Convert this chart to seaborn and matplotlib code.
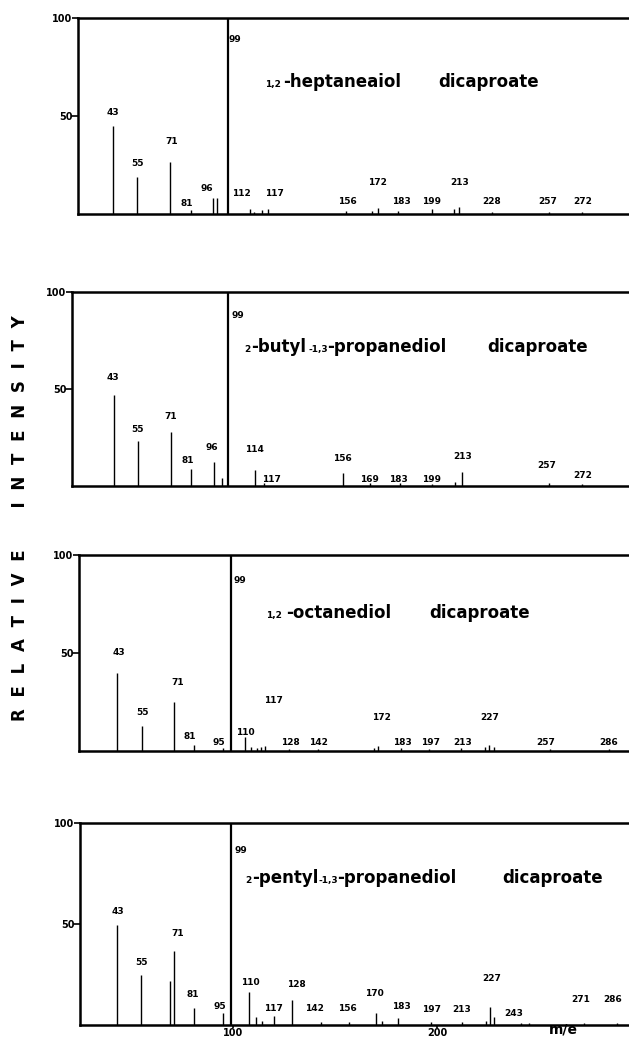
import seaborn as sns
import matplotlib.pyplot as plt

sns.set_theme(style="white")
plt.rcParams['font.family'] = ['DejaVu Sans']

# panel 1 - 1,2-heptanediol dicaproate
p1_mz = [43, 55, 71, 81, 92, 94, 99, 110, 112, 116, 119, 157, 169.5, 172.4, 182,
         199, 209.5, 212, 228, 256, 272]
p1_int = [45, 19, 26.5, 2, 8, 8, 100, 2.5, 1, 2, 2.5, 1.5, 1.5, 3, 1.5,
          2.5, 2.5, 3.5, 1, 1, 1]
p1_lab = ['43', '55', '71', '81', '96', '99', '112', '117', '156', '172', '183',
          '199', '213', '228', '257', '272']
p1_lab_x = [43, 55.2, 71.8, 79, 89, 102.8, 106, 122, 157.7, 172.4, 184,
            198.8, 212.4, 228, 255.4, 272.5]
p1_lab_y = [52, 26, 37, 5.6, 12.8, 89, 10.7, 10.7, 6.6, 16.3, 6.6,
            6.6, 16.3, 6.6, 6.6, 6.6]

# panel 2 - 2-butyl-1,3-propanediol dicaproate
p2_mz = [43, 55, 71, 80.8, 92.1, 96, 99, 112.3, 116.7, 155.5, 168.7, 183.5,
         199.2, 210.5, 214, 256.7, 273]
p2_int = [47, 23, 28, 8.8, 12.4, 4, 100, 8.2, 1.5, 6.7, 1.5, 1.5,
          1.2, 2, 7, 1.5, 1]
p2_lab = ['43', '55', '71', '81', '96', '99', '114', '117', '156', '169', '183',
          '199', '213', '257', '272']
p2_lab_x = [42.5, 54.8, 71, 79.3, 91.1, 104.1, 112.3, 120.6, 155.5, 168.7, 183,
            199.2, 214.4, 255.7, 273.4]
p2_lab_y = [56, 29, 36, 13.4, 19.6, 88, 19, 3.6, 14.4, 3.6, 3.6,
            3.6, 15, 10.8, 5.5]

# panel 3 - 1,2-octanediol dicaproate
p3_mz = [43, 55, 71, 81, 95, 99, 106, 109, 112, 114, 116, 128, 142, 170, 172,
         183, 197, 213, 225, 227, 229, 257, 286]
p3_int = [40, 13, 25, 3, 1.5, 100, 7, 2, 1.5, 2, 2.5, 1, 1, 1.5, 2.5,
          1.5, 1, 1.5, 2, 3, 2, 0.8, 0.8]
p3_lab = ['43', '55', '71', '81', '95', '99', '110', '117', '128', '142', '172',
          '183', '197', '213', '227', '257', '286']
p3_lab_x = [43.5, 55.4, 72.7, 79, 93, 103.6, 106.4, 120.2, 128.6, 142.5, 173.7,
            184, 198, 213.8, 227, 254.9, 286]
p3_lab_y = [50.5, 19.4, 34.7, 7.5, 4.5, 87, 9.5, 26, 4.5, 4.5, 17,
            4.5, 4.5, 4.5, 17, 4.5, 4.5]

# panel 4 - 2-pentyl-1,3-propanediol dicaproate
p4_mz = [43, 55, 69, 71, 81, 95, 99, 108, 111, 114, 120, 129, 143, 157, 170,
         173, 181, 197, 212, 224, 226, 228, 241, 245, 272, 288]
p4_int = [49.5, 24.8, 21.8, 36.6, 8.4, 6, 100, 16.3, 4, 2, 4.5, 12.4, 1.5, 1.5, 6,
          2, 3.5, 1.5, 1.5, 2, 9, 4, 1, 1, 1, 1]
p4_lab = ['43', '55', '71', '81', '95', '99', '110', '117', '128', '142', '156',
          '170', '183', '197', '213', '227', '243', '271', '286']
p4_lab_x = [43.5, 55.3, 73, 80.3, 93.6, 103.7, 108.3, 119.6, 130.9, 139.7, 155.9,
            169.2, 182.4, 197.1, 211.9, 226.6, 237.4, 270.3, 286]
p4_lab_y = [56, 31, 45.5, 15, 9.4, 86.6, 21, 8.4, 20, 8.4, 8.4,
            15.8, 9, 7.9, 7.9, 22.8, 5.9, 12.4, 12.4]

# compound names: (text, m/e start, small?)
p1_name = [('1,2', 117.2, True), ('-heptaneaiol', 126.0, False), ('dicaproate', 201.7, False)]
p2_name = [('2', 107.3, True), ('-butyl', 110.3, False), ('-1,3', 138.5, True),
           ('-propanediol', 148.0, False), ('dicaproate', 226.2, False)]
p3_name = [('1,2', 116.3, True), ('-octanediol', 126.2, False), ('dicaproate', 197.0, False)]
p4_name = [('2', 105.8, True), ('-pentyl', 109.3, False), ('-1,3', 141.8, True),
           ('-propanediol', 151.2, False), ('dicaproate', 232.0, False)]
name_y = [64.8, 69, 68, 70.3]

panels = [
    (p1_mz, p1_int, p1_lab, p1_lab_x, p1_lab_y, p1_name),
    (p2_mz, p2_int, p2_lab, p2_lab_x, p2_lab_y, p2_name),
    (p3_mz, p3_int, p3_lab, p3_lab_x, p3_lab_y, p3_name),
    (p4_mz, p4_int, p4_lab, p4_lab_x, p4_lab_y, p4_name),
]

W, H = 629, 1038
# axes boxes in pixels: left, top, bottom
boxes = [(78, 18, 214), (72, 292, 486), (79, 555, 751), (80, 823, 1025)]
xlims = [(26, 295), (22.5, 296), (24, 296), (25, 294)]

fig = plt.figure(figsize=(W / 100, H / 100), dpi=100)

for i, (mz, inten, lab, lx, ly, name) in enumerate(panels):
    left, top, bottom = boxes[i]
    ax = fig.add_axes([left / W, 1 - bottom / H, 1 - left / W, (bottom - top) / H])
    thin = [(m, v) for m, v in zip(mz, inten) if v < 100]
    ax.vlines([m for m, v in thin], 0, [v for m, v in thin], color='black', lw=1.0)
    ax.vlines([m for m, v in zip(mz, inten) if v >= 100], 0, 100, color='black', lw=1.6)
    for t, x, y in zip(lab, lx, ly):
        ax.text(x, y, t, ha='center', va='center', fontsize=6.5,
                fontweight='bold', color='black')
    for t, x, small in name:
        ax.text(x, name_y[i], t, ha='left', va='baseline',
                fontsize=6.5 if small else 12, fontweight='bold', color='black')
    ax.set_xlim(*xlims[i])
    ax.set_ylim(0, 100)
    ax.set_yticks([50, 100])
    ax.set_yticklabels(['50', '100'], fontsize=7, fontweight='bold')
    ax.tick_params(axis='y', left=True, direction='out', length=4, width=1.2,
                   pad=0, colors='black')
    if i == 3:
        ax.set_xticks([100, 200])
        ax.set_xticklabels(['100', '200'], fontsize=7, fontweight='bold')
        ax.tick_params(axis='x', bottom=True, direction='out', length=2,
                       width=1.2, pad=0, colors='black')
    else:
        ax.set_xticks([])
    sns.despine(ax=ax, top=False, right=True)
    for s in ['left', 'top', 'bottom']:
        ax.spines[s].set_color('black')
        ax.spines[s].set_linewidth(1.8)
    ax.set_facecolor('white')

ylabel = 'RELATIVE INTENSITY'
spaced = ('\u2002' * 5).join('\u2002\u2009'.join(w) for w in ylabel.split())
fig.text(20 / W, 1 - 518 / H, spaced, rotation=90, ha='center', va='center',
         fontsize=12, fontweight='bold', color='black')
fig.text(563 / W, 1.5 / H, 'm/e', ha='center', va='bottom',
         fontsize=10, fontweight='bold', color='black')

fig.savefig('out.png', dpi=100, facecolor='white')
